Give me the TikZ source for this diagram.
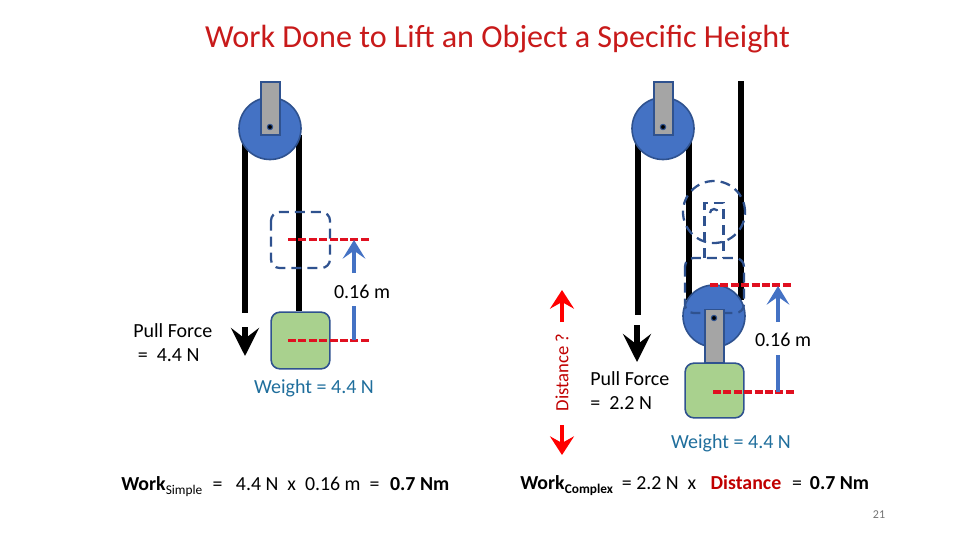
\documentclass[tikz,border=0pt]{standalone}
\usepackage{fontspec}
\setmainfont{Carlito}
\usetikzlibrary{arrows.meta,calc}
\definecolor{pulleyblue}{HTML}{4472C4}
\definecolor{edgeblue}{HTML}{2F528F}
\definecolor{boxgreen}{HTML}{A9D18E}
\definecolor{bracketgray}{HTML}{A5A5A5}
\definecolor{dashred}{HTML}{E01020}
\definecolor{titlered}{HTML}{C81A1A}
\definecolor{darkred}{HTML}{C00000}
\definecolor{weightblue}{HTML}{1F6E9C}
\tikzset{
  pulley/.style={circle,draw=edgeblue,line width=1.2pt,fill=pulleyblue,minimum size=46.5pt,inner sep=0pt},
  bracket/.style={draw=edgeblue,line width=1.1pt,fill=bracketgray},
  axle/.style={circle,draw=edgeblue,line width=0.8pt,fill=black,minimum size=4pt,inner sep=0pt},
  weightbox/.style={draw=edgeblue,line width=1.2pt,fill=boxgreen,rounded corners=6.5pt},
  ghost/.style={draw=edgeblue,line width=1.7pt,dash pattern=on 7.5pt off 4.5pt},
  ghostround/.style={ghost,rounded corners=6.5pt},
  rope/.style={draw=black,line width=4pt},
  mark line/.style={draw=dashred,line width=2.8pt,dash pattern=on 6pt off 1.8pt},
  blackarrow/.style={draw=black,line width=4.5pt,-{Stealth[length=21pt,width=21pt,inset=8pt]}},
  bluearrow/.style={draw=pulleyblue,line width=3.2pt,-{Stealth[length=14pt,width=17pt,inset=6pt]}},
  blueline/.style={draw=pulleyblue,line width=3.2pt},
  redarrow/.style={draw=red,line width=3.4pt,-{Stealth[length=14pt,width=18pt,inset=5pt]}},
  label/.style={font=\fontsize{15pt}{18pt}\selectfont,inner sep=0pt},
  work/.style={font=\fontsize{14.9pt}{18pt}\selectfont,inner sep=0pt,anchor=base west},
}
\begin{document}
\begin{tikzpicture}[x=0.75pt,y=-0.75pt]
\useasboundingbox (0,0) rectangle (960,540);
\node[font=\fontsize{24.1pt}{28pt}\selectfont,text=titlered,inner sep=0pt] (title) at (497.5,39.5) {Work Done to Lift an Object a Specific Height};

% left system
\coordinate (lropeT) at (245,140); \coordinate (lropeB) at (245,313);
\coordinate (rropeT) at (299,135);
\node[weightbox,minimum width=44pt,minimum height=42.5pt,inner sep=0pt] (lbox) at (300.5,340.5) {};
\draw[rope] (lropeT) -- (lropeB);
\draw[rope] (rropeT) -- (rropeT |- lbox.north);
\draw[ghostround] (271,212) rectangle (330,268);
\node[pulley] (lpulley) at (270,128.5) {};
\node[bracket,minimum width=14pt,minimum height=40pt,inner sep=0pt] (lbracket) at (270.5,108.5) {};
\node[axle] (laxle) at (270,127) {};
\coordinate (lhaS) at (245,327); \coordinate (lhaE) at (245,356);
\draw[blackarrow] (lhaS) -- (lhaE);
\coordinate (m1a) at (288,239.5); \coordinate (m1b) at (370,239.5);
\coordinate (m2a) at (288,340.5); \coordinate (m2b) at (370,340.5);
\draw[mark line] (m1a) -- (m1b);
\draw[mark line] (m2a) -- (m2b);
\node[label] (l016) at (362,292) {0.16 m};
\coordinate (ltip) at (354,240); \coordinate (lfoot) at (354,340);
\coordinate (larrS) at (354,273); \coordinate (llineS) at (354,306);
\draw[bluearrow] (larrS) -- (ltip);
\draw[blueline] (llineS) -- (lfoot);
\node[label,align=left,anchor=north west] (lpull) at (133,323) {Pull Force\\[0pt]\ =\ \ 4.4 N};
\node[label,text=weightblue] (lweight) at (314,388.5) {Weight = 4.4 N};

% distance
\node[font=\fontsize{14pt}{17pt}\selectfont,text=darkred,rotate=90,inner sep=0pt] (dist) at (562,372.5) {Distance ?};
\coordinate (dU) at (562,322); \coordinate (dUt) at (562,290);
\coordinate (dD) at (562,425); \coordinate (dDt) at (562,455);
\draw[redarrow] (dU) -- (dUt);
\draw[redarrow] (dD) -- (dDt);

% right system
\coordinate (r1T) at (638,140); \coordinate (r1B) at (638,315);
\coordinate (r2T) at (689,140); \coordinate (r2B) at (689,300);
\coordinate (r3T) at (741,81); \coordinate (r3B) at (741,300);
\draw[rope] (r1T) -- (r1B);
\draw[rope] (r2T) -- (r2B);
\draw[rope] (r3T) -- (r3B);
\node[pulley] (rpulley) at (663,128.5) {};
\node[bracket,minimum width=14pt,minimum height=40pt,inner sep=0pt] (rbracket) at (663.5,108.5) {};
\node[axle] (raxle) at (663,127) {};
\coordinate (rhaS) at (637,325); \coordinate (rhaE) at (637,362);
\draw[blackarrow] (rhaS) -- (rhaE);
% moved ghost
\node[circle,ghost,minimum size=46.5pt,inner sep=0pt] (gpulley) at (714,212) {};
\draw[ghost] (704.5,258) -- (704.5,203) -- (723.5,203) -- (723.5,258);
\coordinate (gaxle) at (714,213);
\draw[ghost] (gaxle) ++(-4,0) arc[start angle=180,end angle=360,radius=4];
% moving pulley
\node[pulley] (mpulley) at (714,316) {};
\draw[ghostround] (685,258) rectangle (744,313);
\node[weightbox,minimum width=44pt,minimum height=41pt,inner sep=0pt] (rbox) at (714.5,390.5) {};
\node[bracket,minimum width=14pt,minimum height=40pt,inner sep=0pt] (mbracket) at (714.5,336) {};
\node[axle] (maxle) at (714,318) {};
\coordinate (m3a) at (710,285); \coordinate (m3b) at (793,285);
\coordinate (m4a) at (713,392); \coordinate (m4b) at (795,392);
\draw[mark line] (m3a) -- (m3b);
\draw[mark line] (m4a) -- (m4b);
\node[label] (r016) at (783,340) {0.16 m};
\coordinate (rtip) at (778,286); \coordinate (rfoot) at (778,392);
\coordinate (rarrS) at (778,322); \coordinate (rlineS) at (778,355);
\draw[bluearrow] (rarrS) -- (rtip);
\draw[blueline] (rlineS) -- (rfoot);
\node[label,align=left,anchor=north west] (rpull) at (590,371) {Pull Force\\[0pt]=\ \ 2.2 N};
\node[label,text=weightblue] (rweight) at (731,443.5) {Weight = 4.4 N};

% work lines
\node[work] (wl) at (121,490) {\textbf{Work}\raisebox{-3pt}{\fontsize{10pt}{12pt}\selectfont Simple}\hspace{1pt}\ \ =\ \ \ 4.4 N\ \ x\ \ 0.16 m\ \ =\ \ \hspace{1.2pt}\textbf{0.7 Nm}};
\node[work] (wr) at (520,489) {\textbf{Work}\raisebox{-3pt}{\fontsize{10pt}{12pt}\selectfont\textbf{Complex}}\ \ =\ 2.2 N\ \ x\hspace{4pt}\ \ \textcolor{darkred}{\textbf{Distance}}\hspace{1.5pt}\ \ =\hspace{2.5pt}\ \textbf{0.7 Nm}};
\node[font=\fontsize{9pt}{11pt}\selectfont,text=black!55,inner sep=0pt] (page) at (879,515) {21};
\end{tikzpicture}
\end{document}
